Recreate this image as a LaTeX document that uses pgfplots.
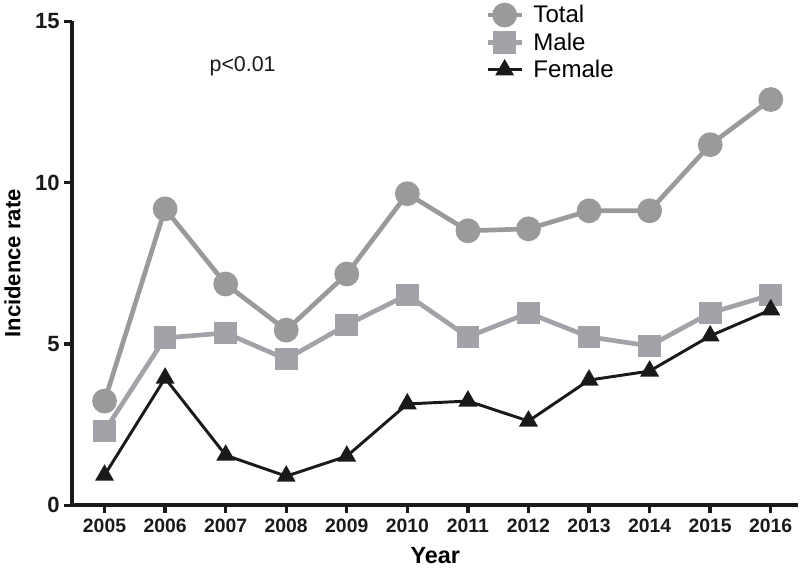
\documentclass[border=0pt]{standalone}
\usepackage{pgfplots}
\pgfplotsset{compat=1.18}
\usepackage{fontspec}
\setmainfont{Liberation Sans}
\definecolor{tot}{HTML}{9A9A9A}
\definecolor{mal}{HTML}{A2A2A8}
\definecolor{fem}{HTML}{1A1A1A}
\begin{document}
\begin{tikzpicture}
\begin{axis}[
  scale only axis, width=543pt, height=362pt,
  xmin=2004.47, xmax=2016.45, ymin=0, ymax=15,
  axis x line*=bottom, axis y line*=left,
  axis line style={line width=3pt, color=fem, -},
  xtick={2005,...,2016}, ytick={0,5,10,15},
  xticklabel style={/pgf/number format/1000 sep=, font=\bfseries\fontsize{14.5}{16}\selectfont, text=fem, yshift=-1pt},
  yticklabel style={font=\bfseries\fontsize{16.5}{18}\selectfont, text=fem},
  /pgf/number format/assume math mode=true,
  tick style={line width=2.5pt, color=fem},
  tick align=outside, major tick length=6pt,
  xlabel={\bfseries Year}, ylabel={\bfseries Incidence rate},
  xlabel style={font=\bfseries\fontsize{17.5}{19}\selectfont, yshift=-4pt},
  ylabel style={font=\bfseries\fontsize{16.5}{18}\selectfont, yshift=4pt},
  legend style={draw=none, fill=none, at={(0.563,1.045)}, anchor=north west, font=\fontsize{18}{20}\selectfont, row sep=2pt, cells={anchor=west}},
  legend cell align=left,
  legend image code/.code={\draw[mark repeat=2,mark phase=2,#1] plot coordinates {(0cm,0cm) (0.45cm,0cm) (0.9cm,0cm)};},
  clip=false,
]
\addplot[tot, line width=3.5pt, mark=*, mark size=7.5pt, mark options={solid}] coordinates {
(2005,3.23) (2006,9.19) (2007,6.86) (2008,5.43) (2009,7.17) (2010,9.66) (2011,8.51) (2012,8.57) (2013,9.13) (2014,9.13) (2015,11.18) (2016,12.58)};
\addlegendentry{\hspace{5pt}Total}
\addplot[mal, line width=3.5pt, mark=square*, mark size=6.75pt, mark options={solid}] coordinates {
(2005,2.30) (2006,5.19) (2007,5.34) (2008,4.53) (2009,5.59) (2010,6.52) (2011,5.22) (2012,5.96) (2013,5.22) (2014,4.94) (2015,5.96) (2016,6.52)};
\addlegendentry{\hspace{5pt}Male}
\addplot[fem, line width=2.2pt, mark=triangle*, mark size=6pt, mark options={solid}] coordinates {
(2005,0.93) (2006,3.94) (2007,1.55) (2008,0.90) (2009,1.52) (2010,3.14) (2011,3.23) (2012,2.61) (2013,3.88) (2014,4.16) (2015,5.25) (2016,6.06)};
\addlegendentry{\hspace{5pt}Female}
\node[font=\fontsize{16}{18}\selectfont, text=fem] at (axis cs:2007.28,13.6) {p<0.01};
\end{axis}
\end{tikzpicture}
\end{document}
